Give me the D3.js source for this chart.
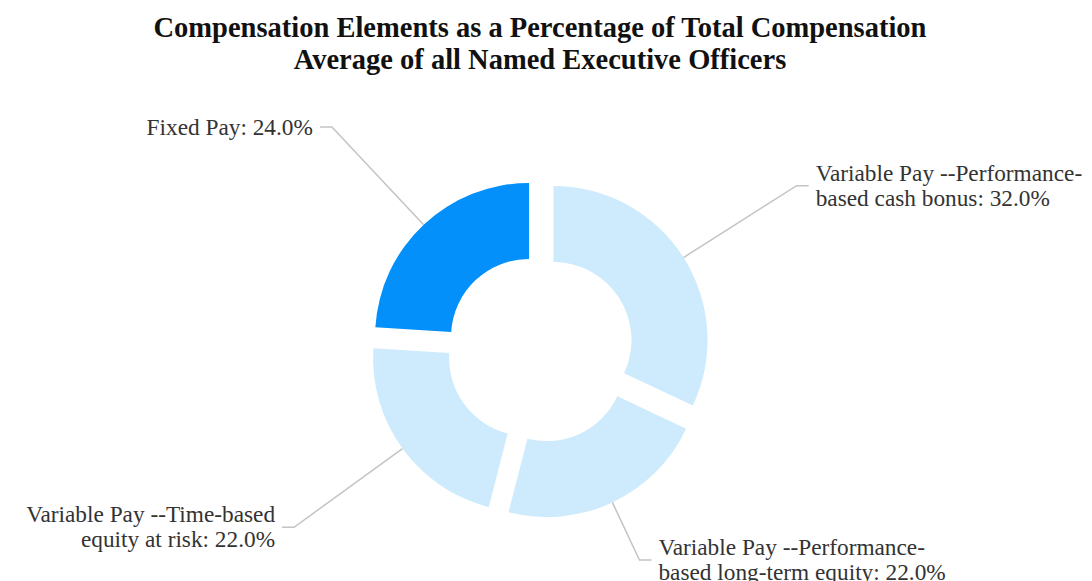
<!DOCTYPE html>
<html>
<head>
<meta charset="utf-8">
<script src="https://cdn.jsdelivr.net/npm/d3@7"></script>
<style>
  html, body { margin: 0; padding: 0; background: #fff; }
  svg { display: block; }
</style>
</head>
<body>
<div id="chart"></div>
<script>
// data ("|" marks where the label wraps)
const categories = [
  "Variable Pay --Performance-|based cash bonus",
  "Variable Pay --Performance-|based long-term equity",
  "Variable Pay --Time-based|equity at risk",
  "Fixed Pay"
];
const values = [32.0, 22.0, 22.0, 24.0];
const colors = ["#cdebfd", "#cdebfd", "#cdebfd", "#0390fb"];
const titleLines = [
  "Compensation Elements as a Percentage of Total Compensation",
  "Average of all Named Executive Officers"
];

const width = 1092, height = 581;
const cx = 540, cy = 348.6;
const outerR = 154, innerR = 78, explode = 16;
const leadLen = 134, leadH = 12, textGap = 7;
const lineH = 25;
const serif = "'Liberation Serif', 'Times New Roman', serif";

const svg = d3.select("#chart").append("svg")
  .attr("width", width).attr("height", height);

svg.append("g").selectAll("text")
  .data(titleLines).join("text")
  .attr("x", cx).attr("y", (d, i) => 37 + i * 32)
  .attr("text-anchor", "middle")
  .attr("font-family", serif)
  .attr("font-weight", "bold")
  .attr("font-size", 28.5)
  .attr("fill", "#111")
  .text(d => d);

const pie = d3.pie().sort(null).value(d => d.value);
const arc = d3.arc().innerRadius(innerR).outerRadius(outerR);
const slices = pie(categories.map((c, i) => ({name: c, value: values[i], color: colors[i]})));

const g = svg.append("g").attr("transform", `translate(${cx},${cy})`);

function dir(d) {
  const a = (d.startAngle + d.endAngle) / 2;
  return [Math.sin(a), -Math.cos(a)];
}

g.selectAll("path.slice").data(slices).join("path")
  .attr("class", "slice")
  .attr("d", arc)
  .attr("fill", d => d.data.color)
  .attr("transform", d => {
    const [ux, uy] = dir(d);
    return `translate(${ux * explode},${uy * explode})`;
  });

// leader lines and labels
const maxY = height - cy - 21;
slices.forEach(d => {
  const [ux, uy] = dir(d);
  const r0 = outerR + explode;
  const p0 = [ux * r0, uy * r0];
  let p1 = [ux * (r0 + leadLen), uy * (r0 + leadLen)];
  if (p1[1] > maxY) {
    // keep the label near the bottom edge, slide along the radial line
    const t = (maxY - p0[1]) / uy;
    p1 = [p0[0] + ux * t, maxY];
  }
  const side = ux >= 0 ? 1 : -1;
  const p2 = [p1[0] + side * leadH, p1[1]];

  g.append("polyline")
    .attr("points", [p0, p1, p2].map(p => p.join(",")).join(" "))
    .attr("fill", "none")
    .attr("stroke", "#c4c4c4")
    .attr("stroke-width", 1.5);

  const lines = (d.data.name + ": " + d.data.value.toFixed(1) + "%").split("|");
  const b1 = p2[1] + 7.5 - (lines.length - 1) * lineH / 2;
  g.append("text")
    .attr("font-family", serif)
    .attr("font-size", 23.3)
    .attr("fill", "#333")
    .attr("text-anchor", side > 0 ? "start" : "end")
    .selectAll("tspan").data(lines).join("tspan")
    .attr("x", p2[0] + side * textGap)
    .attr("y", (l, i) => b1 + i * lineH)
    .text(l => l);
});
</script>
</body>
</html>
